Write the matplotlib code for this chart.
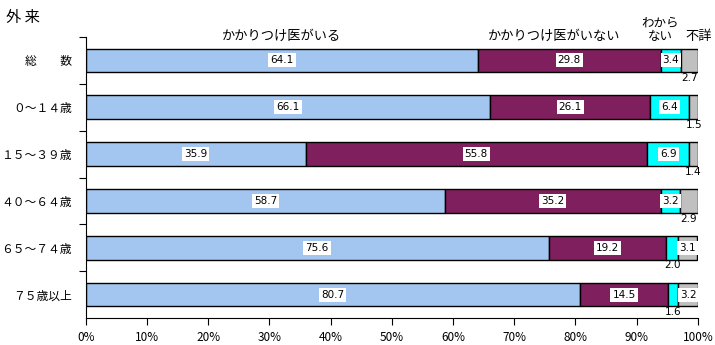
import matplotlib
matplotlib.use("Agg")
import matplotlib.pyplot as plt
import numpy as np

plt.rcParams['font.family'] = ['Noto Sans CJK JP', 'DejaVu Sans']

categories = ["総　　数", "０～１４歳", "１５～３９歳", "４０～６４歳", "６５～７４歳", "７５歳以上"]
series_names = ["かかりつけ医がいる", "かかりつけ医がいない", "わからない", "不詳"]
has_doctor = [64.1, 66.1, 35.9, 58.7, 75.6, 80.7]
no_doctor = [29.8, 26.1, 55.8, 35.2, 19.2, 14.5]
unknown = [3.4, 6.4, 6.9, 3.2, 2.0, 1.6]
not_stated = [2.7, 1.5, 1.4, 2.9, 3.1, 3.2]
colors = ["#A3C6F0", "#801F5E", "#00FFFF", "#C0C0C0"]

series = [has_doctor, no_doctor, unknown, not_stated]

fig = plt.figure(figsize=(7.15, 3.45), dpi=100)
ax = fig.add_axes([0.120, 0.078, 0.856, 0.815])

n = len(categories)
y = np.arange(n)
left = np.zeros(n)
for s_i, (vals, c) in enumerate(zip(series, colors)):
    vals = np.array(vals)
    ax.barh(y, vals, left=left, height=0.5, color=c, edgecolor="black", linewidth=1.0)
    for i in range(n):
        v = vals[i]
        cx = left[i] + v / 2
        if v >= 3.0:
            ax.text(cx, y[i], f"{v:.1f}", ha="center", va="center", fontsize=7.5,
                    family="DejaVu Sans",
                    bbox=dict(boxstyle="square,pad=0.2", fc="white", ec="none"))
        else:
            ax.text(cx, y[i] + 0.27, f"{v:.1f}", ha="center", va="top", fontsize=7.5,
                    family="DejaVu Sans")
    left = left + vals

ax.set_xlim(0, 100)
ax.set_ylim(n - 0.5, -0.5)
ax.set_xticks(np.arange(0, 101, 10))
ax.set_xticklabels([f"{t}%" for t in range(0, 101, 10)], fontsize=8.5)
ax.set_yticks(np.arange(-0.5, n - 0.5, 1.0))
ax.set_yticklabels([])
ax.set_yticks(y, minor=True)
ax.set_yticklabels(categories, minor=True, fontsize=8.5)
ax.tick_params(axis="y", which="minor", length=0, pad=10)
ax.tick_params(axis="y", which="major", length=5, direction="out")
ax.tick_params(axis="x", length=5, direction="out", pad=4)
for sp in ["top", "right"]:
    ax.spines[sp].set_visible(False)

# series labels above the first bar
ax.text(has_doctor[0] / 2, -0.37, series_names[0], ha="center", va="bottom", fontsize=9.5)
ax.text(has_doctor[0] + no_doctor[0] / 2 - 2.5, -0.37, series_names[1], ha="center", va="bottom", fontsize=9.5)
ax.text(93.8, -0.37, "わから\nない", ha="center", va="bottom", fontsize=9, linespacing=1.0)
ax.text(100.1, -0.37, series_names[3], ha="center", va="bottom", fontsize=9.5)

fig.text(0.008, 0.95, "外 来", fontsize=11, ha="left", va="center")

fig.savefig("out.png", dpi=100)
